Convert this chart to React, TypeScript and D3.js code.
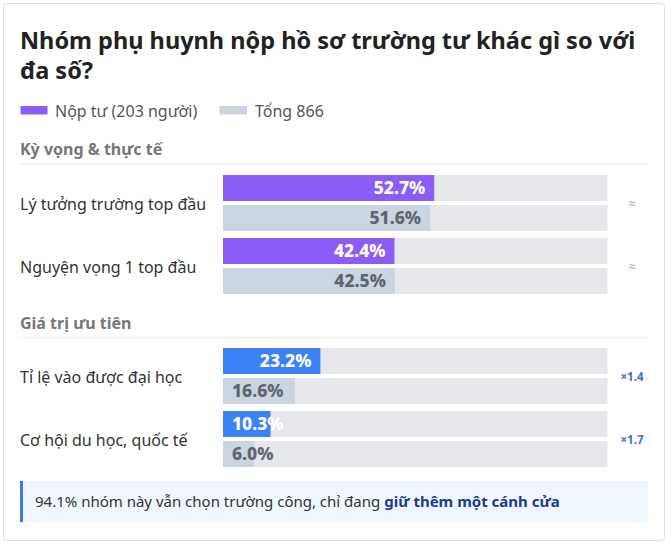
import React from "react";
import * as d3 from "d3";

const title = ["Nhóm phụ huynh nộp hồ sơ trường tư khác gì so với", "đa số?"];
const seriesNames = ["Nộp tư (203 người)", "Tổng 866"];
const sections = ["Kỳ vọng & thực tế", "Giá trị ưu tiên"];
const categories = [
  "Lý tưởng trường top đầu",
  "Nguyện vọng 1 top đầu",
  "Tỉ lệ vào được đại học",
  "Cơ hội du học, quốc tế",
];
const sectionOf = [0, 0, 1, 1];
const privateValues = [52.7, 42.4, 23.2, 10.3];
const totalValues = [51.6, 42.5, 16.6, 6.0];
const notes = ["≈", "≈", "×1.4", "×1.7"];
const footNormal = "94.1% nhóm này vẫn chọn trường công, chỉ đang ";
const footBold = "giữ thêm một cánh cửa";

const FONT = "'Segoe UI', 'Noto Sans', 'Open Sans', sans-serif";
const W = 672;
const H = 546;
const PURPLE = "#8b5cf6";
const BLUE = "#3b82f6";
const GRAY = "#cbd5e1";
const TRACK = "#e5e7eb";

const trackX0 = 223;
const trackX1 = 607.5;
// bars: width = offset + v% of track
const x = d3.scaleLinear().domain([0, 100]).range([trackX0 + 7.8, trackX0 + 7.8 + 386]);

const sectionLayout = [
  { header: 155, line: 164, start: 175 },
  { header: 329, line: 337.5, start: 348 },
];

export default function App() {
  const sub = d3.scaleBand<number>().domain([0, 1]).range([0, 56]).paddingInner(4 / 30);
  const groups = sections.map((s, si) => {
    const idx = categories.map((_, i) => i).filter((i) => sectionOf[i] === si);
    const st = sectionLayout[si].start;
    const band = d3
      .scaleBand<number>()
      .domain(idx)
      .range([st, st + idx.length * 56 + (idx.length - 1) * 7])
      .paddingInner(7 / 63);
    return { s, si, idx, band };
  });

  const labelFor = (v: number, y: number, h: number, color: string, key: string) => {
    const txt = `${v.toFixed(1)}%`;
    const estW = txt.length * 10.8;
    const end = x(v) - 9;
    const overflow = end - estW < trackX0 + 9;
    return (
      <text
        key={key}
        x={overflow ? trackX0 + 9 : end}
        y={y + h / 2}
        dy="0.36em"
        textAnchor={overflow ? "start" : "end"}
        fontFamily={FONT}
        fontWeight={800}
        fontSize={17.5}
        fill={color}
      >
        {txt}
      </text>
    );
  };

  return (
    <svg
      width={W}
      height={H}
      style={{ position: "absolute", left: 0, top: 0, background: "#fff" }}
      fontFamily={FONT}
    >
      <rect x={3.5} y={3.5} width={661} height={537} rx={3} fill="#fff" stroke="#dcdcdc" />
      {title.map((t, i) => (
        <text key={i} x={20} y={49 + i * 29.5} fontSize={23.5} fontWeight={700} fill="#222">
          {t}
        </text>
      ))}
      {/* legend */}
      <rect x={20.5} y={106} width={27} height={8.5} fill={PURPLE} />
      <text x={55} y={116.5} fontSize={16} fill="#555">{seriesNames[0]}</text>
      <rect x={219.5} y={106} width={27.5} height={8.5} fill={GRAY} />
      <text x={255} y={116.5} fontSize={16} fill="#555">{seriesNames[1]}</text>

      {groups.map((g) => (
        <g key={g.si}>
          <text x={20} y={sectionLayout[g.si].header} fontSize={16} fontWeight={700} fill="#777">
            {g.s}
          </text>
          <line
            x1={20}
            x2={648}
            y1={sectionLayout[g.si].line}
            y2={sectionLayout[g.si].line}
            stroke="#ececec"
          />
          {g.idx.map((i) => {
            const y0 = g.band(i)!;
            const bh = sub.bandwidth();
            const yA = y0 + sub(0)!;
            const yB = y0 + sub(1)!;
            const main = g.si === 0 ? PURPLE : BLUE;
            const isNote = notes[i] === "≈";
            return (
              <g key={i}>
                <text x={20} y={y0 + 29} dy="0.35em" fontSize={16} fill="#333">
                  {categories[i]}
                </text>
                <rect x={trackX0} y={yA} width={trackX1 - trackX0} height={bh} fill={TRACK} />
                <rect x={trackX0} y={yB} width={trackX1 - trackX0} height={bh} fill={TRACK} />
                <rect x={trackX0} y={yA} width={x(privateValues[i]) - trackX0} height={bh} fill={main} />
                <rect x={trackX0} y={yB} width={x(totalValues[i]) - trackX0} height={bh} fill={GRAY} />
                {labelFor(privateValues[i], yA, bh, "#fff", "a")}
                {labelFor(totalValues[i], yB, bh, "#5f6670", "b")}
                <text
                  x={632}
                  y={y0 + 28.5}
                  dy="0.35em"
                  textAnchor="middle"
                  fontSize={isNote ? 13 : 11.5}
                  fontWeight={isNote ? 400 : 700}
                  fill={isNote ? "#aaaaaa" : "#3b6fd8"}
                >
                  {notes[i]}
                </text>
              </g>
            );
          })}
        </g>
      ))}

      {/* footer */}
      <rect x={20} y={481} width={628} height={41} fill="#eff6ff" />
      <rect x={20} y={481} width={3} height={41} fill="#3b7be0" />
      <text x={35} y={501.5} dy="0.35em" fontSize={15} fill="#333">
        {footNormal}
        <tspan fontWeight={700} fill="#1e3a8a">{footBold}</tspan>
      </text>
    </svg>
  );
}
